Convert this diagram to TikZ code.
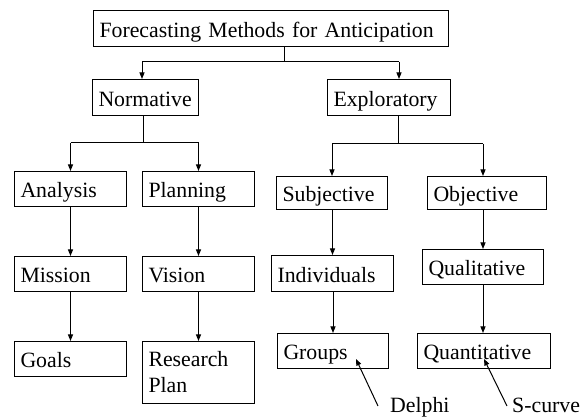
\documentclass[tikz,border=0pt]{standalone}
\usepackage{fontspec}
\setmainfont{Liberation Serif}
\usetikzlibrary{arrows.meta}
\begin{document}
\begin{tikzpicture}[x=1pt,y=-1pt,
  txt/.style={font=\fontsize{21.8}{26}\selectfont},
  box/.style={txt,draw,line width=1pt,anchor=north west,align=left,
    inner xsep=6pt,inner ysep=0pt},
  one/.style={box,text height=18pt,text depth=0pt},
  link/.style={line width=1pt},
  arr/.style={link,-{Triangle[length=6.5pt,width=5pt]}}]
\useasboundingbox[fill=white] (0,0) rectangle (582,419);

% boxes
\node[one,minimum width=355pt,text width=343pt,minimum height=36pt] (top) at (93,10) {Forecasting Methods for Anticipation};
\node[one,minimum width=106pt,text width=94pt,minimum height=36pt] (norm) at (92,79) {Normative};
\node[one,minimum width=123pt,text width=111pt,minimum height=36pt] (expl) at (327,79) {Exploratory};

\node[one,minimum width=112pt,text width=100pt,minimum height=35pt] (ana) at (14,171) {Analysis};
\node[one,minimum width=112pt,text width=100pt,minimum height=35pt] (plan) at (142,171) {Planning};
\node[one,minimum width=112pt,text width=100pt,minimum height=35pt] (mis) at (14,256) {Mission};
\node[one,minimum width=112pt,text width=100pt,minimum height=35pt] (vis) at (142,256) {Vision};
\node[one,minimum width=112pt,text width=100pt,minimum height=35pt] (goals) at (14,341) {Goals};
\node[box,minimum width=112pt,text width=100pt,minimum height=62pt] (rp) at (142,341) {Research\\Plan};

\node[one,minimum width=111pt,text width=99pt,minimum height=33pt] (subj) at (276,176) {Subjective};
\node[one,minimum width=119pt,text width=107pt,minimum height=33pt] (obj) at (427,176) {Objective};
\node[one,minimum width=122pt,text width=110pt,minimum height=36pt] (ind) at (271,255) {Individuals};
\node[one,minimum width=121pt,text width=109pt,minimum height=35pt] (qual) at (422,249) {Qualitative};
\node[one,minimum width=111pt,text width=99pt,minimum height=35pt] (grp) at (277,333) {Groups};
\node[one,minimum width=133pt,text width=121pt,minimum height=35pt] (quant) at (417,333) {Quantitative};

% labels
\node[txt,anchor=base west,inner sep=0pt] (delphi) at (390,413) {Delphi};
\node[txt,anchor=base west,inner sep=0pt] (scurve) at (512,413) {S-curve};

% top split
\coordinate (j0) at (284,62);
\coordinate (dN) at (142,62);
\coordinate (dE) at (399,62);
\draw[link] (j0 |- top.south) -- (j0);
\draw[link] (dN) -- (dE);
\draw[arr] (dN) -- (dN |- norm.north);
\draw[arr] (dE) -- (dE |- expl.north);

% normative split
\coordinate (j1) at (143,143);
\draw[link] (j1 |- norm.south) -- (j1);
\draw[link] (j1 -| ana.north) -- (j1 -| plan.north);
\draw[arr] (j1 -| ana.north) -- (ana.north);
\draw[arr] (j1 -| plan.north) -- (plan.north);
\draw[arr] (ana) -- (mis);
\draw[arr] (mis) -- (goals);
\draw[arr] (plan) -- (vis);
\draw[arr] (vis) -- (rp);

% exploratory split
\coordinate (j2) at (398,144);
\draw[link] (j2 |- expl.south) -- (j2);
\draw[link] (j2 -| subj.north) -- (j2 -| qual.north);
\draw[arr] (j2 -| subj.north) -- (subj.north);
\draw[arr] (j2 -| qual.north) -- (obj.north -| qual.north);
\draw[arr] (subj.south -| ind.north) -- (ind.north);
\draw[arr] (ind.south -| grp.north) -- (grp.north);
\draw[arr] (obj.south -| qual.north) -- (qual.north);
\draw[arr] (qual.south) -- (qual.south |- quant.north);

% pointers from the labels
\coordinate (dT) at (378,406);
\coordinate (dH) at (356,359);
\coordinate (sT) at (507,406);
\coordinate (sH) at (484,359);
\draw[arr] (dT) -- (dH);
\draw[arr] (sT) -- (sH);
\end{tikzpicture}
\end{document}
